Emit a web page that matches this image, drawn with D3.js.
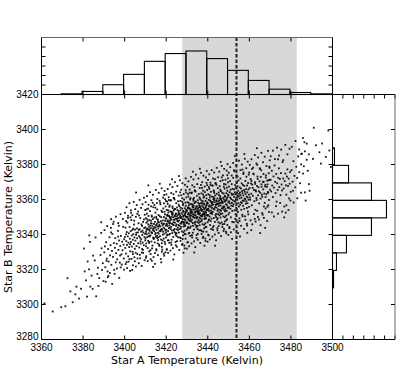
<!DOCTYPE html>
<html>
<head>
<meta charset="utf-8">
<script src="https://d3js.org/d3.v7.min.js"></script>
<style>
  body { margin: 0; background: #fff; }
  svg { display: block; font-family: "DejaVu Sans", sans-serif; }
  .tick line { stroke: #000; stroke-width: 1; }
  .tick text { font-size: 10px; fill: #000; }
</style>
</head>
<body>
<script>
// sampled temperatures, written as offsets (Kelvin) from originA / originB
var originA = 3360, originB = 3280;
var starPairs = `
1.4,20.6 5.4,16.0 9.5,18.5
11.5,19.0 12.5,35.0 15.0,21.3 18.0,23.4 16.8,30.2 13.9,27.5 19.0,29.0 16.3,25.8
26.3,24.7 21.4,33.8 22.9,40.1 24.1,36.5 25.6,45.2 27.2,41.0 28.4,48.3 29.5,43.6 20.8,38.9 23.5,30.2
26.9,37.4 28.9,52.1 24.8,47.9 22.2,44.6 27.8,35.1 29.1,39.7 28.7,67.0 23.0,59.5
30.2,49.8 30.7,41.3 31.1,55.6 31.4,46.2 31.8,38.9 32.0,51.7 32.3,44.5 32.7,58.4 33.0,48.1 33.2,53.9
33.6,42.7 33.9,50.6 34.1,60.3 34.4,47.2 34.8,55.1 35.0,39.8 35.3,52.4 35.5,57.9 35.9,49.3 36.2,54.7
36.4,45.8 36.8,62.1 37.0,51.2 37.3,56.6 37.7,43.9 37.9,53.5 38.2,59.2 38.5,48.7 38.8,55.9 39.0,51.0
39.3,64.4 39.6,46.3 39.8,57.3 30.5,53.2 31.9,35.6 33.4,63.8 35.7,44.1 36.9,66.5 38.1,41.2 39.5,54.2
33.5,68.8 37.2,65.0
40.1,58.6 40.3,52.3 40.4,63.9 40.6,49.1 40.8,56.2 41.0,61.4 41.1,54.0 41.3,66.8 41.5,58.9 41.7,47.5
41.8,55.3 42.0,60.7 42.2,52.8 42.4,64.2 42.5,57.6 42.7,50.4 42.9,61.9 43.0,55.7 43.2,68.3 43.4,59.4
43.5,53.1 43.7,62.6 43.9,57.0 44.0,48.8 44.2,60.2 44.4,54.6 44.5,65.7 44.7,58.3 44.9,51.9 45.0,62.8
45.2,56.5 45.4,70.1 45.5,59.8 45.7,53.4 45.9,63.5 46.0,57.9 46.2,46.3 46.4,61.2 46.5,55.0 46.7,66.4
46.9,59.1 47.0,52.6 47.2,63.0 47.4,58.2 47.5,69.4 47.7,54.8 47.9,61.6 48.0,57.3 48.2,49.7 48.4,64.9
48.5,59.7 48.7,55.4 48.9,67.2 49.0,61.1 49.2,53.9 49.4,63.7 49.5,58.5 49.7,71.3 49.9,56.7 40.9,44.2
41.6,69.5 42.3,45.9 43.1,72.4 43.8,50.1 44.6,67.9 45.3,49.6 46.1,71.8 46.8,62.7 47.3,48.4 48.1,65.8
48.8,51.2 49.3,68.6 49.8,60.4 40.7,60.1 42.6,54.4 44.1,63.3 45.6,61.0 47.6,56.1 48.6,62.2 43.6,39.7
50.0,64.1 50.1,57.8 50.2,69.3 50.3,61.5 50.4,54.9 50.5,66.7 50.6,60.2 50.7,71.9 50.8,63.4 50.9,58.6
51.0,67.5 51.1,52.3 51.2,62.9 51.3,56.4 51.4,65.8 51.5,70.6 51.6,60.7 51.7,64.5 51.8,55.2 51.9,68.2
52.0,62.1 52.1,58.9 52.2,73.4 52.3,65.1 52.4,59.6 52.5,48.8 52.6,63.7 52.7,67.9 52.8,61.3 52.9,56.0
53.0,66.3 53.1,70.2 53.2,60.8 53.3,64.9 53.4,53.7 53.5,62.4 53.6,68.8 53.7,58.2 53.8,75.6 53.9,63.2
54.0,57.4 54.1,66.0 54.2,61.9 54.3,69.7 54.4,64.3 54.5,55.5 54.6,67.2 54.7,60.0 54.8,72.5 54.9,63.9
55.0,58.7 55.1,65.4 55.2,51.6 55.3,62.6 55.4,69.0 55.5,66.1 55.6,59.3 55.7,74.3 55.8,64.7 55.9,61.0
56.0,68.4 56.1,56.8 56.2,63.5 56.3,71.1 56.4,60.5 56.5,66.9 56.6,54.2 56.7,65.6 56.8,62.0 56.9,70.4
57.0,59.0 57.1,64.6 57.2,77.2 57.3,61.8 57.4,67.6 57.5,57.1 57.6,69.9 57.7,63.1 57.8,66.5 57.9,52.9
58.0,62.8 58.1,72.8 58.2,65.2 58.3,59.9 58.4,68.0 58.5,61.6 58.6,74.9 58.7,64.0 58.8,57.7 58.9,70.0
59.0,66.2 59.1,60.4 59.2,63.3 59.3,55.8 59.4,71.5 59.5,67.8 59.6,62.3 59.7,76.0 59.8,65.0 59.9,58.3
50.2,46.7 51.3,74.8 52.4,51.0 53.5,78.1 54.6,49.4 55.7,58.0 56.8,79.3 57.9,50.2 59.0,47.9 59.5,80.2
50.5,62.7 51.6,59.1 52.7,66.4 53.8,63.6 54.9,60.9 56.0,67.3 56.5,64.8 57.4,62.5 58.5,65.9 59.7,69.1
50.9,68.7 51.9,63.0 53.0,70.8 54.0,58.0 55.2,70.1 56.3,58.4 57.7,73.6 58.3,56.6 59.2,73.0 59.9,61.2
60.0,69.2 60.1,62.7 60.2,74.1 60.3,66.0 60.4,59.5 60.5,71.3 60.6,64.8 60.7,77.5 60.8,68.1 60.9,61.9
61.0,72.6 61.1,56.7 61.2,67.3 61.3,63.6 61.4,70.5 61.5,75.8 61.6,65.2 61.7,69.6 61.8,60.4 61.9,73.2
62.0,66.6 62.1,63.1 62.2,79.4 62.3,70.0 62.4,64.3 62.5,54.1 62.6,68.5 62.7,72.8 62.8,66.1 62.9,60.8
63.0,71.2 63.1,75.1 63.2,65.7 63.3,69.9 63.4,58.6 63.5,67.0 63.6,73.7 63.7,62.5 63.8,80.8 63.9,68.3
64.0,61.4 64.1,70.9 64.2,66.8 64.3,74.6 64.4,69.1 64.5,59.9 64.6,72.0 64.7,64.9 64.8,77.9 64.9,68.9
65.0,63.0 65.1,70.3 65.2,56.2 65.3,67.7 65.4,73.9 65.5,71.0 65.6,64.0 65.7,79.0 65.8,69.4 65.9,65.5
66.0,73.3 66.1,61.1 66.2,68.0 66.3,76.2 66.4,65.0 66.5,71.8 66.6,58.3 66.7,70.6 66.8,66.4 66.9,75.3
67.0,63.4 67.1,69.3 67.2,82.4 67.3,66.2 67.4,72.4 67.5,61.7 67.6,74.8 67.7,67.5 67.8,71.4 67.9,57.4
68.0,67.2 68.1,77.6 68.2,70.2 68.3,64.6 68.4,72.9 68.5,66.0 68.6,80.0 68.7,68.7 68.8,62.2 68.9,75.0
69.0,71.1 69.1,64.9 69.2,68.2 69.3,60.1 69.4,76.4 69.5,72.7 69.6,66.9 69.7,81.2 69.8,69.8 69.9,62.8
60.2,51.3 61.3,79.7 62.4,55.4 63.5,83.0 64.6,53.8 65.6,62.4 66.7,84.1 67.8,54.6 68.9,52.1 69.4,85.3
60.5,67.4 61.6,63.9 62.7,71.6 63.8,68.5 64.9,65.8 65.9,72.3 66.5,69.7 67.4,67.1 68.5,70.7 69.7,74.2
60.9,73.9 61.9,67.9 63.0,76.0 64.0,63.2 65.2,75.4 66.3,63.1 67.7,78.7 68.3,61.3 69.2,78.2 69.9,66.5
60.1,65.9 61.1,70.8 62.1,68.9 63.2,72.1 64.2,70.4 65.3,69.0 66.2,71.5 67.2,70.0 68.2,73.5 69.1,71.9
60.6,60.0 61.7,76.6 62.8,62.3 63.9,74.3 65.0,60.7 66.0,77.0 67.1,64.4 68.0,76.8 69.0,65.3 69.5,70.1
60.4,70.7 61.4,66.4 62.5,73.0 63.6,65.3 64.7,71.7 65.7,67.4 66.8,73.8 67.9,68.8 68.6,67.0 69.6,73.4
70.0,73.5 70.1,66.9 70.2,78.4 70.3,70.2 70.4,63.7 70.5,75.6 70.6,69.0 70.7,81.7 70.8,72.3 70.9,66.1
71.0,76.8 71.1,60.9 71.2,71.5 71.3,67.8 71.4,74.7 71.5,80.0 71.6,69.4 71.7,73.8 71.8,64.6 71.9,77.4
72.0,70.8 72.1,67.3 72.2,83.6 72.3,74.2 72.4,68.5 72.5,58.3 72.6,72.7 72.7,77.0 72.8,70.3 72.9,65.0
73.0,75.4 73.1,79.3 73.2,69.9 73.3,74.1 73.4,62.8 73.5,71.2 73.6,77.9 73.7,66.7 73.8,85.0 73.9,72.5
74.0,65.6 74.1,75.1 74.2,71.0 74.3,78.8 74.4,73.3 74.5,64.1 74.6,76.2 74.7,69.1 74.8,82.1 74.9,73.1
75.0,67.2 75.1,74.5 75.2,60.4 75.3,71.9 75.4,78.1 75.5,75.2 75.6,68.2 75.7,83.2 75.8,73.6 75.9,69.7
76.0,77.5 76.1,65.3 76.2,72.2 76.3,80.4 76.4,69.2 76.5,76.0 76.6,62.5 76.7,74.8 76.8,70.6 76.9,79.5
77.0,67.6 77.1,73.5 77.2,86.6 77.3,70.4 77.4,76.6 77.5,65.9 77.6,79.0 77.7,71.7 77.8,75.6 77.9,61.6
78.0,71.4 78.1,81.8 78.2,74.4 78.3,68.8 78.4,77.1 78.5,70.2 78.6,84.2 78.7,72.9 78.8,66.4 78.9,79.2
79.0,75.3 79.1,69.1 79.2,72.4 79.3,64.3 79.4,80.6 79.5,76.9 79.6,71.1 79.7,85.4 79.8,74.0 79.9,67.0
70.2,55.5 71.3,83.9 72.4,59.6 73.5,87.2 74.6,58.0 75.6,66.6 76.7,88.3 77.8,58.8 78.9,56.3 79.4,89.5
70.5,71.6 71.6,68.1 72.7,75.8 73.8,72.7 74.9,70.0 75.9,76.5 76.5,73.9 77.4,71.3 78.5,74.9 79.7,78.4
70.9,78.1 71.9,72.1 73.0,80.2 74.0,67.4 75.2,79.6 76.3,67.3 77.7,82.9 78.3,65.5 79.2,82.4 79.9,70.7
70.1,70.1 71.1,75.0 72.1,73.1 73.2,76.3 74.2,74.6 75.3,73.2 76.2,75.7 77.2,74.2 78.2,77.7 79.1,76.1
70.6,64.2 71.7,80.8 72.8,66.5 73.9,78.5 75.0,64.9 76.0,81.2 77.1,68.6 78.0,81.0 79.0,69.5 79.5,74.3
70.4,74.9 71.4,70.6 72.5,77.2 73.6,69.5 74.7,75.9 75.7,71.6 76.8,78.0 77.9,73.0 78.6,71.2 79.6,77.6
70.8,68.4 71.8,73.0 72.9,71.6 73.4,80.9 74.4,69.8 75.4,72.6 76.4,71.0 77.3,77.8 78.4,72.0 79.3,73.7
80.0,77.9 80.1,71.2 80.2,83.0 80.3,74.6 80.4,68.0 80.5,79.8 80.6,73.4 80.7,86.1 80.8,76.7 80.9,70.3
81.0,81.2 81.1,65.4 81.2,75.9 81.3,72.1 81.4,79.0 81.5,84.4 81.6,73.7 81.7,78.3 81.8,69.1 81.9,81.7
82.0,75.2 82.1,71.8 82.2,88.0 82.3,78.6 82.4,72.9 82.5,62.6 82.6,77.1 82.7,81.4 82.8,74.7 82.9,69.4
83.0,79.7 83.1,83.8 83.2,74.3 83.3,78.5 83.4,67.2 83.5,75.6 83.6,82.3 83.7,71.0 83.8,89.4 83.9,76.9
84.0,70.0 84.1,79.5 84.2,75.4 84.3,83.2 84.4,77.7 84.5,68.5 84.6,80.6 84.7,73.5 84.8,86.5 84.9,77.5
85.0,71.6 85.1,78.9 85.2,64.8 85.3,76.3 85.4,82.5 85.5,79.6 85.6,72.6 85.7,87.6 85.8,78.0 85.9,74.1
86.0,81.9 86.1,69.7 86.2,76.6 86.3,84.8 86.4,73.6 86.5,80.4 86.6,66.9 86.7,79.2 86.8,75.0 86.9,83.9
87.0,72.0 87.1,77.9 87.2,91.0 87.3,74.8 87.4,81.0 87.5,70.3 87.6,83.4 87.7,76.1 87.8,80.0 87.9,66.0
88.0,75.8 88.1,86.2 88.2,78.8 88.3,73.2 88.4,81.5 88.5,74.6 88.6,88.6 88.7,77.3 88.8,70.8 88.9,83.6
89.0,79.7 89.1,73.5 89.2,76.8 89.3,68.7 89.4,85.0 89.5,81.3 89.6,75.5 89.7,89.8 89.8,78.4 89.9,71.4
80.2,59.9 81.3,88.3 82.4,64.0 83.5,91.6 84.6,62.4 85.6,71.0 86.7,92.7 87.8,63.2 88.9,60.7 89.4,93.9
80.5,76.0 81.6,72.5 82.7,80.2 83.8,77.1 84.9,74.4 85.9,80.9 86.5,78.3 87.4,75.7 88.5,79.3 89.7,82.8
80.9,82.5 81.9,76.5 83.0,84.6 84.0,71.8 85.2,84.0 86.3,71.7 87.7,87.3 88.3,69.9 89.2,86.8 89.9,75.1
80.1,74.5 81.1,79.4 82.1,77.5 83.2,80.7 84.2,79.0 85.3,77.6 86.2,80.1 87.2,78.6 88.2,82.1 89.1,80.5
80.6,68.6 82.8,85.2 84.7,69.3 86.0,85.6 88.0,73.9
90.0,82.3 90.1,75.6 90.2,87.4 90.3,79.0 90.4,72.4 90.5,84.2 90.6,77.8 90.7,90.5 90.8,81.1 90.9,74.7
91.0,85.6 91.1,69.8 91.2,80.3 91.3,76.5 91.4,83.4 91.5,88.8 91.6,78.1 91.7,82.7 91.8,73.5 91.9,86.1
92.0,79.6 92.1,76.2 92.2,92.4 92.3,83.0 92.4,77.3 92.5,67.0 92.6,81.5 92.7,85.8 92.8,79.1 92.9,73.8
93.0,84.1 93.1,88.2 93.2,78.7 93.3,82.9 93.4,71.6 93.5,80.0 93.6,86.7 93.7,75.4 93.8,93.8 93.9,81.3
94.0,74.4 94.1,83.9 94.2,79.8 94.3,87.6 94.4,82.1 94.5,72.9 94.6,85.0 94.7,77.9 94.8,90.9 94.9,81.9
95.0,76.0 95.1,83.3 95.2,69.2 95.3,80.7 95.4,86.9 95.5,84.0 95.6,77.0 95.7,92.0 95.8,82.4 95.9,78.5
96.0,86.3 96.1,74.1 96.2,81.0 96.3,89.2 96.4,78.0 96.5,84.8 96.6,71.3 96.7,83.6 96.8,79.4 96.9,88.3
97.0,76.4 97.1,82.3 97.2,95.4 97.3,79.2 97.4,85.4 97.5,74.7 97.6,87.8 97.7,80.5 97.8,84.4 97.9,70.4
98.0,80.2 98.1,90.6 98.2,83.2 98.3,77.6 98.4,85.9 98.5,79.0 98.6,93.0 98.7,81.7 98.8,75.2 98.9,88.0
99.0,84.1 99.1,77.9 99.2,81.2 99.3,73.1 99.4,89.4 99.5,85.7 99.6,79.9 99.7,94.2 99.8,82.8 99.9,75.8
90.4,64.3 92.6,96.7 94.6,66.8 96.7,97.1 98.9,65.1
100.1,86.6 100.4,79.9 100.6,91.7 100.9,83.3 101.2,76.7 101.4,88.5 101.7,82.1 101.9,94.8 102.2,85.4 102.4,79.0
102.7,89.9 102.9,74.1 103.2,84.6 103.4,80.8 103.7,87.7 103.9,93.1 104.2,82.4 104.4,87.0 104.7,77.8 104.9,90.4
105.2,83.9 105.4,80.5 105.7,96.7 105.9,87.3 106.2,81.6 106.4,71.3 106.7,85.8 106.9,90.1 107.2,83.4 107.4,78.1
107.7,88.4 107.9,92.5 108.2,83.0 108.4,87.2 108.7,75.9 108.9,84.3 109.2,91.0 109.4,79.7 109.7,98.1 109.9,85.6
100.3,81.2 101.0,90.7 101.6,86.6 102.1,94.4 102.8,88.9 103.5,79.7 104.0,91.8 104.6,84.7 105.1,97.7 105.8,88.7
106.0,82.8 106.6,90.1 107.0,76.0 107.6,87.5 108.0,93.7 108.6,90.8 109.0,83.8 109.6,98.8 100.8,89.2 103.0,85.3
104.1,70.0 105.5,92.9 106.8,94.6 107.8,81.4 108.8,88.6 109.3,95.0 101.3,97.5 102.6,68.9 103.8,99.8 109.8,91.2
110.2,91.3 110.5,84.6 110.8,96.4 111.0,88.0 111.3,81.4 111.6,93.2 111.8,86.8 112.1,99.5 112.4,90.1 112.6,83.7
112.9,94.6 113.1,78.8 113.4,89.3 113.6,85.5 113.9,92.4 114.2,97.8 114.4,87.1 114.7,91.7 115.0,82.5 115.2,95.1
115.5,88.6 115.7,85.2 116.0,101.4 116.3,92.0 116.5,86.3 116.8,76.0 117.0,90.5 117.3,94.8 117.6,88.1 117.8,82.8
118.1,93.1 118.3,97.2 118.6,87.7 118.9,91.9 119.1,80.6 119.4,89.0 119.6,95.7 119.9,84.4 113.8,103.0 117.5,72.5
121.0,85.0 120.3,96.8 120.8,90.2 121.2,101.9 121.7,93.5 122.1,87.0 122.6,98.7 123.0,92.3 123.5,104.6 124.0,95.6
124.4,89.3 124.9,100.1 125.3,106.2 125.8,94.8 126.2,99.0 126.7,107.5 127.1,79.4 127.6,102.7 128.1,96.4 128.6,105.8
129.0,85.0 126.5,112.7 125.0,106.0
131.0,121.0 138.0,119.4 132.0,111.0 135.0,112.0 133.7,107.0 138.5,108.0 130.6,103.2 134.4,100.5 136.8,104.3 139.2,98.6
20.5,52.0 21.9,24.5 23.3,55.8 24.6,28.9 26.0,58.3 27.4,30.6 28.7,60.9 29.8,33.4
30.3,62.5 30.9,33.0 31.6,64.8 32.2,36.4 32.9,38.0 33.5,61.2 34.0,31.8 34.7,67.3 35.2,37.5 35.8,70.2
36.3,40.6 36.9,58.8 37.4,35.2 38.0,71.6 38.6,42.8 39.1,68.9 39.7,39.9 31.3,45.0 34.4,66.0 37.8,48.0
40.2,72.4 40.5,43.1 40.9,75.6 41.2,40.8 41.6,70.7 41.9,44.5 42.3,77.9 42.6,39.2 43.0,73.8 43.3,46.1
43.7,71.0 44.0,42.4 44.4,78.6 44.7,47.0 45.1,74.5 45.4,41.7 45.8,76.8 46.1,48.9 46.5,73.1 46.8,43.6
47.2,79.8 47.5,46.4 47.9,75.2 48.2,42.0 48.6,77.3 48.9,49.5 49.3,81.0 49.6,45.3 49.9,74.0 40.7,67.7
42.8,69.8 44.9,44.7 46.9,70.9 48.4,51.7 45.5,84.0
50.1,78.5 50.4,47.6 50.8,81.9 51.1,44.8 51.5,77.0 51.8,50.3 52.2,84.2 52.5,45.9 52.9,79.6 53.2,52.1
53.6,82.7 53.9,47.1 54.3,76.9 54.6,43.2 55.0,85.5 55.3,50.9 55.7,80.3 56.0,48.2 56.4,83.8 56.7,53.5
57.1,78.2 57.4,46.0 57.8,86.4 58.1,51.4 58.5,81.1 58.8,49.0 59.2,84.9 59.5,54.6 59.9,79.1 50.6,74.4
51.7,55.8 52.7,76.1 53.7,41.5 54.8,75.3 55.9,54.9 56.9,89.0 57.9,55.0 58.9,77.8 59.6,49.8 50.3,53.3
51.4,88.1 53.1,45.0 55.5,78.0 57.6,44.1 59.0,82.6
60.1,82.9 60.3,51.6 60.7,86.0 60.9,49.5 61.2,81.3 61.5,55.2 61.8,88.6 62.0,50.8 62.4,83.7 62.6,57.0
63.0,87.1 63.2,52.2 63.6,80.8 63.9,48.6 64.2,89.9 64.5,55.7 64.8,84.5 65.1,53.0 65.4,87.8 65.7,58.4
66.0,82.2 66.3,51.2 66.6,91.0 66.9,56.3 67.2,85.6 67.5,54.1 67.8,89.3 68.1,59.5 68.4,83.1 68.7,53.7
69.0,88.4 69.3,57.6 69.6,84.0 69.9,51.9 60.5,78.8 61.4,59.9 62.2,79.6 63.4,45.7 64.0,80.0 65.0,59.1
66.1,93.4 67.0,57.9 67.7,80.7 68.9,60.3 69.4,92.1 60.8,56.6 62.8,91.6 64.6,60.8 66.8,79.2 68.3,49.6
70.1,87.3 70.4,55.6 70.7,90.4 71.0,53.3 71.3,85.7 71.6,59.2 71.9,92.9 72.2,54.9 72.5,88.1 72.8,61.0
73.1,91.5 73.4,56.1 73.7,85.2 74.0,52.8 74.3,94.2 74.6,59.7 74.9,88.8 75.2,57.0 75.5,92.0 75.8,62.4
76.1,86.6 76.4,55.2 76.7,95.3 77.0,60.4 77.3,89.9 77.6,58.1 77.9,93.6 78.2,63.5 78.5,87.4 78.8,57.7
79.1,92.6 79.4,61.6 79.7,88.2 79.9,55.9 70.5,83.2 71.4,63.8 72.3,84.0 73.5,49.7 74.1,84.5 75.1,63.1
76.2,97.6 77.1,61.9 77.8,85.0 78.9,64.2 79.5,96.3 70.8,60.6 72.9,95.9 74.7,64.8 76.9,83.5 78.4,53.6
80.1,91.2 80.4,59.5 80.7,94.4 81.0,57.2 81.3,89.6 81.6,63.1 81.9,96.8 82.2,58.8 82.5,92.0 82.8,64.9
83.1,95.4 83.4,60.0 83.7,89.1 84.0,56.7 84.3,98.1 84.6,63.6 84.9,92.7 85.2,60.9 85.5,95.9 85.8,66.3
86.1,90.5 86.4,59.1 86.7,99.2 87.0,64.3 87.3,93.8 87.6,62.0 87.9,97.5 88.2,67.4 88.5,91.3 88.8,61.6
89.1,96.5 89.4,65.5 89.7,92.1 89.9,59.8 80.5,87.1 81.4,67.7 82.3,87.9 83.5,53.6 84.1,88.4 85.1,67.0
86.2,101.5 87.1,65.8 87.8,88.9 88.9,68.1 89.5,100.2
90.1,95.3 90.4,63.6 90.8,98.5 91.1,61.3 91.5,93.7 91.8,67.2 92.2,100.9 92.5,62.9 92.9,96.1 93.2,69.0
93.6,99.5 93.9,64.1 94.3,93.2 94.6,60.8 95.0,102.2 95.3,67.7 95.7,96.8 96.0,65.0 96.4,100.0 96.7,70.4
97.1,94.6 97.4,63.2 97.8,103.3 98.1,68.4 98.5,97.9 98.8,66.1 99.2,101.6 99.5,71.5 99.9,95.4 91.7,57.5
93.0,104.8 95.5,58.9 97.6,106.0 99.0,61.0 94.1,89.9
100.2,99.8 100.6,68.1 101.0,103.0 101.4,65.8 101.8,98.2 102.2,71.7 102.6,105.4 103.0,67.4 103.4,100.6 103.8,73.5
104.2,104.0 104.6,68.6 105.0,97.7 105.4,65.3 105.8,106.7 106.2,72.2 106.6,101.3 107.0,69.5 107.4,104.5 107.8,74.9
108.2,99.1 108.6,67.7 109.0,107.8 109.4,72.9 109.8,102.4 100.9,62.5 103.6,109.3 105.2,60.8 107.6,63.8 109.1,76.7
110.3,104.7 110.8,72.6 111.3,107.9 111.8,70.3 112.3,103.1 112.8,76.2 113.3,109.6 113.8,71.9 114.3,105.1 114.8,78.0
115.3,108.5 115.8,73.1 116.3,102.5 116.8,69.8 117.3,111.2 117.8,76.7 118.3,105.8 118.8,74.0 119.3,109.0 119.8,79.4
120.4,110.1 121.3,78.3 122.2,113.4 123.1,80.7 124.0,108.6 124.9,83.9 125.8,115.1 126.7,84.1 127.6,111.9 128.7,88.8
`;

// histogram of star A (top panel)
var topEdges = [3359.5, 3369.5, 3379.5, 3389.5, 3399.5, 3409.5, 3419.5, 3429.5,
                3439.5, 3449.5, 3459.5, 3469.5, 3479.5, 3489.5, 3499.5];
var topCounts = [0, 7, 32, 103, 212, 349, 431, 458, 378, 254, 148, 56, 21, 7];

// histogram of star B (side panel), low to high
var sideEdges = [3309.5, 3319.5, 3329.5, 3339.5, 3349.5, 3359.5, 3369.5, 3379.5, 3389.5];
var sideCounts = [10, 38, 134, 374, 518, 374, 154, 19];

var tempTicks = [3360, 3380, 3400, 3420, 3440, 3460, 3480, 3500];
var tempTicksB = [3280, 3300, 3320, 3340, 3360, 3380, 3400, 3420];
var countTicks = [0, 100, 200, 300, 400, 500, 600];

// shaded interval and marked value for star A
var bandA = [3427.7, 3482.8];
var markA = 3453.8;

var points = starPairs.trim().split(/\s+/).map(function(s) {
  var p = s.split(",");
  return { a: originA + (+p[0]), b: originB + (+p[1]) };
});

var W = 416, H = 378;
var svg = d3.select("body").append("svg").attr("width", W).attr("height", H);

var x = d3.scaleLinear().domain([3360, 3500]).range([41.5, 332.5]);
var y = d3.scaleLinear().domain([3280, 3420]).range([339.5, 94.5]);
var hTop = d3.scaleLinear().domain([0, 600]).range([94.5, 37.5]);
var hSide = d3.scaleLinear().domain([0, 600]).range([332.5, 395]);

// shaded band spans both the top histogram and the scatter
svg.append("rect")
  .attr("x", x(bandA[0]))
  .attr("y", hTop(600))
  .attr("width", x(bandA[1]) - x(bandA[0]))
  .attr("height", y(3280) - hTop(600))
  .attr("fill", "#d8d8d8");

// top histogram
svg.append("g").selectAll("rect")
  .data(topCounts)
  .join("rect")
  .attr("x", function(d, i) { return x(topEdges[i]); })
  .attr("width", function(d, i) { return x(topEdges[i + 1]) - x(topEdges[i]); })
  .attr("y", function(d) { return hTop(d); })
  .attr("height", function(d) { return hTop(0) - hTop(d); })
  .attr("fill", "none")
  .attr("stroke", "#000")
  .attr("stroke-width", 1.1);

// side histogram
svg.append("g").selectAll("rect")
  .data(sideCounts)
  .join("rect")
  .attr("x", hSide(0))
  .attr("width", function(d) { return hSide(d) - hSide(0); })
  .attr("y", function(d, i) { return y(sideEdges[i + 1]); })
  .attr("height", function(d, i) { return y(sideEdges[i]) - y(sideEdges[i + 1]); })
  .attr("fill", "none")
  .attr("stroke", "#000")
  .attr("stroke-width", 1.1);

// scatter
svg.append("clipPath").attr("id", "mainclip")
  .append("rect").attr("x", 41.5).attr("y", 94.5).attr("width", 291).attr("height", 245);

svg.append("g").attr("clip-path", "url(#mainclip)")
  .selectAll("rect")
  .data(points)
  .join("rect")
  .attr("x", function(d) { return x(d.a) - 0.9; })
  .attr("y", function(d) { return y(d.b) - 0.9; })
  .attr("width", 1.8)
  .attr("height", 1.8)
  .attr("fill", "#000")
  .attr("fill-opacity", 0.9);

// dashed marker
svg.append("line")
  .attr("x1", x(markA)).attr("x2", x(markA))
  .attr("y1", hTop(600)).attr("y2", y(3280))
  .attr("stroke", "#222")
  .attr("stroke-width", 2)
  .attr("stroke-dasharray", "3.5,2");

// axes: ticks point inward on every side
function axisAt(axis, tx, ty) {
  var g = svg.append("g").attr("transform", "translate(" + tx + "," + ty + ")").call(axis);
  g.select(".domain").remove();
  return g;
}
var noLabel = function() { return ""; };

axisAt(d3.axisBottom(x).tickValues(tempTicks).tickSize(-4).tickPadding(4.5).offset(0)
  .tickFormat(d3.format("d")), 0, y(3280));
axisAt(d3.axisTop(x).tickValues(tempTicks).tickSize(-4).offset(0).tickFormat(noLabel), 0, y(3420));
var yAxisG = axisAt(d3.axisLeft(y).tickValues(tempTicksB).tickSize(-4).tickPadding(3).offset(0)
  .tickFormat(d3.format("d")), x(3360), 0);
// lowest label sits a touch higher, clear of the 3360 label below it
yAxisG.selectAll(".tick text").filter(function(d) { return d === 3280; }).attr("dy", "0.05em");
axisAt(d3.axisRight(y).tickValues(tempTicksB).tickSize(-4).offset(0).tickFormat(noLabel), x(3500), 0);

axisAt(d3.axisBottom(x).tickValues(tempTicks).tickSize(4).offset(0).tickFormat(noLabel), 0, hTop(0) - 4);
axisAt(d3.axisTop(x).tickValues(tempTicks).tickSize(-4).offset(0).tickFormat(noLabel), 0, hTop(600));
axisAt(d3.axisLeft(hTop).tickValues(countTicks).tickSize(-4).offset(0).tickFormat(noLabel), x(3360), 0);
axisAt(d3.axisRight(hTop).tickValues(countTicks).tickSize(-4).offset(0).tickFormat(noLabel), x(3500), 0);

axisAt(d3.axisTop(hSide).tickValues(countTicks).tickSize(-4).offset(0).tickFormat(noLabel), 0, y(3420));
axisAt(d3.axisBottom(hSide).tickValues(countTicks).tickSize(-4).offset(0).tickFormat(noLabel), 0, y(3280));
axisAt(d3.axisRight(y).tickValues(tempTicksB).tickSize(-4).offset(0).tickFormat(noLabel), hSide(600), 0);

// frames
function seg(x1, y1, x2, y2, col) {
  svg.append("line").attr("x1", x1).attr("y1", y1).attr("x2", x2).attr("y2", y2)
    .attr("stroke", col || "#000").attr("stroke-width", 1);
}
seg(x(3360), hTop(600), x(3360), y(3280));
seg(x(3500), hTop(600), x(3500), y(3280));
seg(x(3360), y(3280), hSide(600), y(3280));
seg(x(3360), y(3420), hSide(600), y(3420));
seg(x(3360), hTop(600), x(3500), hTop(600), "#666");
seg(hSide(600), y(3420), hSide(600), y(3280), "#666");

// axis titles
svg.append("text")
  .attr("x", (x(3360) + x(3500)) / 2)
  .attr("y", 364)
  .attr("text-anchor", "middle")
  .style("font-size", "11px")
  .text("Star A Temperature (Kelvin)");

svg.append("text")
  .attr("transform", "translate(11.5," + ((y(3280) + y(3420)) / 2) + ") rotate(-90)")
  .attr("text-anchor", "middle")
  .style("font-size", "11px")
  .text("Star B Temperature (Kelvin)");
</script>
</body>
</html>
